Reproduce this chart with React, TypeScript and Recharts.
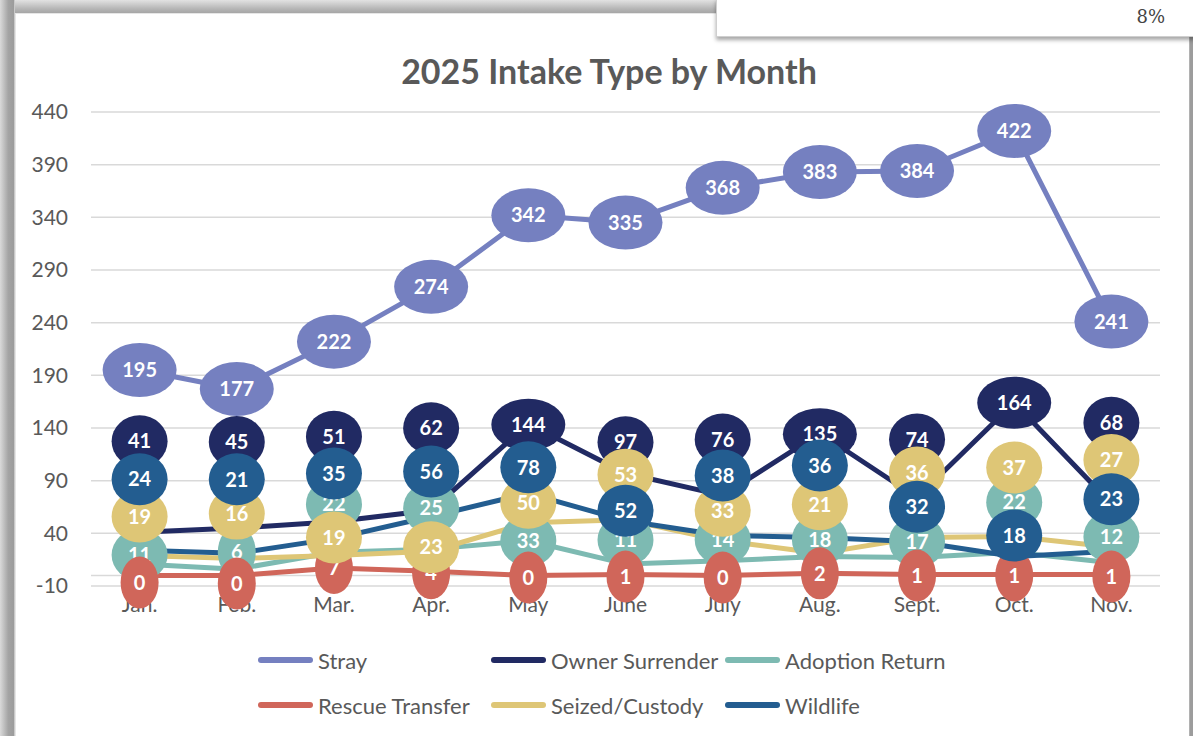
import React from "react";
import {
  CartesianGrid,
  LabelList,
  Line,
  LineChart,
  ReferenceLine,
  XAxis,
  YAxis,
} from "recharts";

const months = ["Jan.", "Feb.", "Mar.", "Apr.", "May", "June", "July", "Aug.", "Sept.", "Oct.", "Nov."];
const stray = [195, 177, 222, 274, 342, 335, 368, 383, 384, 422, 241];
const ownerSurrender = [41, 45, 51, 62, 144, 97, 76, 135, 74, 164, 68];
const adoptionReturn = [11, 6, 22, 25, 33, 11, 14, 18, 17, 22, 12];
const rescueTransfer = [0, 0, 7, 4, 0, 1, 0, 2, 1, 1, 1];
const seizedCustody = [19, 16, 19, 23, 50, 53, 33, 21, 36, 37, 27];
const wildlife = [24, 21, 35, 56, 78, 52, 38, 36, 32, 18, 23];
const yTicks = [-10, 40, 90, 140, 190, 240, 290, 340, 390, 440];

// the data labels in the original were dragged by hand, so each one
// gets a vertical nudge (px) from its point
const labelShift: Record<string, number[]> = {
  stray: [0, 0, 0, 0, 0, 0, 0, 0, 0, 0, 0],
  ownerSurrender: [-91, -86, -85, -82, 1, -31, -56, 1, -58, 0, -81],
  adoptionReturn: [-9, -17, -48, -41, 0, -24, -21, -17, -16, -50, -26],
  rescueTransfer: [7, 8, 0, 2, 2, 2, 2, 0, 1, 1, 2],
  seizedCustody: [-39, -45, -18, -4, -20, -45, -30, -49, -65, -69, -87],
  wildlife: [-71, -74, -65, -45, -26, -10, -60, -72, -35, -21, -52],
};

const series = [
  { key: "stray", name: "Stray", color: "#7580C0" },
  { key: "ownerSurrender", name: "Owner Surrender", color: "#212A63" },
  { key: "adoptionReturn", name: "Adoption Return", color: "#7DBAB2" },
  { key: "rescueTransfer", name: "Rescue Transfer", color: "#D0665A" },
  { key: "seizedCustody", name: "Seized/Custody", color: "#DEC676" },
  { key: "wildlife", name: "Wildlife", color: "#235D90" },
];

const rows = months.map((month, i) => ({
  month,
  stray: stray[i],
  ownerSurrender: ownerSurrender[i],
  adoptionReturn: adoptionReturn[i],
  rescueTransfer: rescueTransfer[i],
  seizedCustody: seizedCustody[i],
  wildlife: wildlife[i],
}));

const FONT = "Lato, 'Open Sans', sans-serif";
const GREY = "#595959";

function bubble(key: string, color: string) {
  return (props: any) => {
    const { x, y, value, index } = props;
    if (x == null || y == null) return null;
    const text = String(value);
    const rx = 10 + 9 * text.length;
    const ry = key === "stray" ? 27 : 26;
    const cy = Number(y) + (labelShift[key][index] ?? 0);
    return (
      <g>
        <ellipse cx={x} cy={cy} rx={rx} ry={ry} fill={color} />
        <text
          x={x}
          y={cy}
          dy="0.36em"
          textAnchor="middle"
          fill="#fff"
          fontSize={20}
          fontWeight={700}
          fontFamily={FONT}
        >
          {text}
        </text>
      </g>
    );
  };
}

function LegendRow({ items, top }: { items: typeof series; top: number }) {
  const cols = [258, 491, 725];
  return (
    <>
      {items.map((s, i) => (
        <div
          key={s.key}
          style={{ position: "absolute", left: cols[i], top: top - 14, height: 28, display: "flex", alignItems: "center" }}
        >
          <span style={{ width: 55, height: 6, borderRadius: 3, background: s.color, display: "inline-block" }} />
          <span style={{ marginLeft: 5, fontFamily: FONT, fontSize: 22, color: GREY, whiteSpace: "nowrap" }}>{s.name}</span>
        </div>
      ))}
    </>
  );
}

export default function App() {
  return (
    <div style={{ position: "absolute", left: 0, top: 0, width: 1193, height: 736, overflow: "hidden", background: "#c9c9c9" }}>
      {/* window frame around the chart */}
      <div style={{ position: "absolute", left: 0, top: 0, width: 1193, height: 13, background: "linear-gradient(#e2e2e2, #b4b4b4 70%, #a6a6a6)" }} />
      <div style={{ position: "absolute", left: 0, top: 0, width: 15, height: 736, background: "linear-gradient(to right, #dadada, #a4a4a4 55%, #9c9c9c 90%, #e0e0e0)" }} />
      <div style={{ position: "absolute", left: 1188, top: 0, width: 5, height: 736, background: "linear-gradient(to right, #d0d0d0, #9c9c9c 50%)" }} />
      <div style={{ position: "absolute", left: 15, top: 13, width: 1173, height: 723, background: "#fff", borderTop: "1px solid #e6e6e6", borderLeft: "1px solid #e6e6e6" }} />

      <div
        style={{
          position: "absolute",
          left: 389,
          top: 50,
          width: 440,
          textAlign: "center",
          fontFamily: FONT,
          fontWeight: 700,
          fontSize: 34,
          color: GREY,
          whiteSpace: "nowrap",
        }}
      >
        2025 Intake Type by Month
      </div>

      <div style={{ position: "absolute", left: 0, top: 0 }}>
        <LineChart width={1193} height={736} data={rows} margin={{ top: 112, right: 33, bottom: 120, left: 0 }}>
          <CartesianGrid vertical={false} stroke="#D9D9D9" strokeWidth={1.5} />
          <XAxis
            dataKey="month"
            height={30}
            axisLine={false}
            tickLine={false}
            tickSize={0}
            tickMargin={11}
            interval={0}
            padding={{ left: 48.6, right: 48.6 }}
            tick={{ fill: GREY, fontSize: 21, fontFamily: FONT }}
          />
          <YAxis
            width={91}
            domain={[-10, 440]}
            ticks={yTicks}
            axisLine={false}
            tickLine={false}
            tickSize={0}
            tickMargin={23}
            tick={{ fill: GREY, fontSize: 21, fontFamily: FONT }}
          />
          <ReferenceLine y={0} stroke="#D9D9D9" strokeWidth={1.5} />
          {series.map((s) => (
            <Line
              key={s.key}
              dataKey={s.key}
              name={s.name}
              stroke={s.color}
              strokeWidth={5}
              strokeLinejoin="round"
              strokeLinecap="round"
              dot={false}
              activeDot={false}
              isAnimationActive={false}
            />
          ))}
          {/* second pass so every bubble sits above every line */}
          {series.map((s) => (
            <Line
              key={s.key + "-labels"}
              dataKey={s.key}
              stroke="none"
              dot={false}
              activeDot={false}
              legendType="none"
              isAnimationActive={false}
            >
              <LabelList dataKey={s.key} content={bubble(s.key, s.color)} />
            </Line>
          ))}
        </LineChart>
      </div>

      <LegendRow items={series.slice(0, 3)} top={660} />
      <LegendRow items={series.slice(3)} top={705} />

      {/* the neighbouring cell box that overlaps the screenshot's top edge */}
      <div
        style={{
          position: "absolute",
          left: 716,
          top: -2,
          width: 480,
          height: 37,
          background: "#fff",
          border: "1px solid #cfcfcf",
          boxShadow: "0 3px 4px rgba(0,0,0,0.35)",
        }}
      >
        <span style={{ position: "absolute", right: 32, top: 7, fontFamily: "'DejaVu Serif', serif", fontSize: 18, color: "#444" }}>8%</span>
      </div>
    </div>
  );
}
